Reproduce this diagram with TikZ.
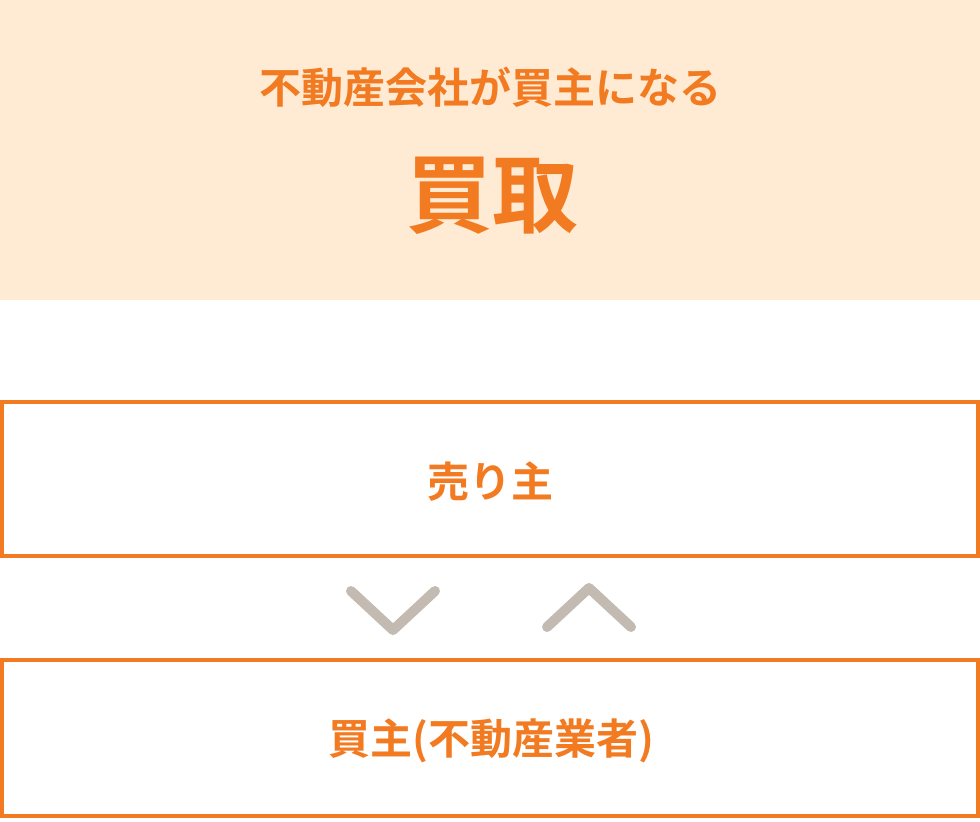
\documentclass[tikz,border=0pt]{standalone}
\usepackage{fontspec}
\newfontfamily\jp{Noto Sans CJK JP}[BoldFont={* Bold}]
\definecolor{peach}{HTML}{FFEAD3}
\definecolor{org}{HTML}{F27A21}
\definecolor{chev}{HTML}{C3BBB1}
\begin{document}
\begin{tikzpicture}[x=1pt,y=-1pt,
  lbl/.style={anchor=base,text=org,font=\jp\bfseries,inner sep=0pt},
  frame/.style={draw=org,line width=4pt},
  chevron/.style={draw=chev,line width=10pt,line cap=round,line join=round}]
\useasboundingbox (0,0) rectangle (980,822);
\fill[peach] (0,0) rectangle (980,300);
\node[lbl,font=\jp\bfseries\fontsize{42}{42}\selectfont] (sub) at (490,103.5) {不動産会社が買主になる};
\node[lbl,font=\jp\bfseries\fontsize{86}{86}\selectfont] (title) at (492,226.5) {買取};
\draw[frame] (2,402) rectangle (978,556);
\node[lbl,font=\jp\bfseries\fontsize{42}{42}\selectfont] (seller) at (490,497.5) {売り主};
\draw[frame] (2,660) rectangle (978,816);
\node[lbl,font=\jp\bfseries\fontsize{42}{42}\selectfont] (buyer) at (491,754.5) {買主(不動産業者)};
\coordinate (d1) at (351,591); \coordinate (d2) at (393,630); \coordinate (d3) at (435,591);
\coordinate (u1) at (547,627); \coordinate (u2) at (589,588); \coordinate (u3) at (631,627);
\draw[chevron] (d1) -- (d2) -- (d3);
\draw[chevron] (u1) -- (u2) -- (u3);
\end{tikzpicture}
\end{document}
